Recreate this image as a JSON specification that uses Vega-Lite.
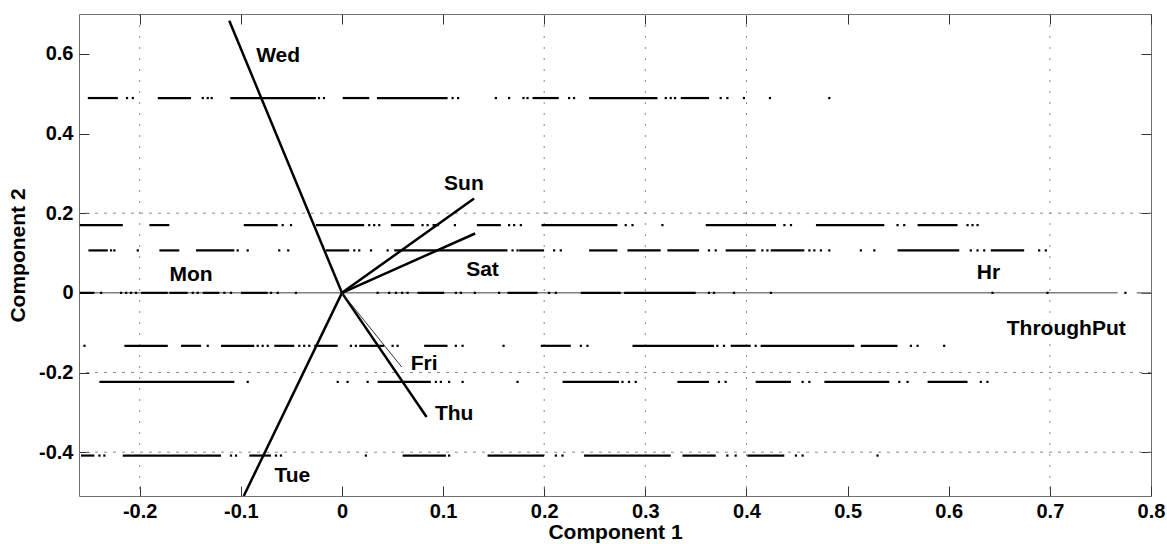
{
  "$schema": "https://vega.github.io/schema/vega-lite/v6.json",
  "width": 1072,
  "height": 482,
  "autosize": {"type": "none"},
  "padding": {"left": 79, "top": 14, "right": 16, "bottom": 48},
  "background": "white",
  "config": {
    "view": {"stroke": "#707070", "strokeWidth": 1},
    "axis": {
      "domain": false,
      "grid": false,
      "ticks": true,
      "tickColor": "#333333",
      "tickSize": -10,
      "labelFont": "Liberation Sans",
      "labelFontWeight": "bold",
      "labelFontSize": 20,
      "labelColor": "#000000",
      "titleFont": "Liberation Sans",
      "titleFontWeight": "bold",
      "titleFontSize": 21,
      "titleColor": "#000000",
      "labelFlush": false,
      "labelOverlap": false
    }
  },
  "datasets": {
    "segs": [
      {"y": 0.489, "a": -0.2513, "b": -0.2216}, {"y": 0.489, "a": -0.1821, "b": -0.1492}, {"y": 0.489, "a": -0.1104, "b": -0.0257}, {"y": 0.489, "a": 0.0007, "b": 0.027}, {"y": 0.489, "a": 0.0346, "b": 0.1045}, {"y": 0.489, "a": 0.1884, "b": 0.2144}, {"y": 0.489, "a": 0.2444, "b": 0.312}, {"y": 0.489, "a": 0.335, "b": 0.363},
      {"y": 0.17, "a": -0.2592, "b": -0.2167}, {"y": 0.17, "a": -0.1904, "b": -0.1707}, {"y": 0.17, "a": -0.0971, "b": -0.0635}, {"y": 0.17, "a": -0.0257, "b": 0.022}, {"y": 0.17, "a": 0.0484, "b": 0.0714}, {"y": 0.17, "a": 0.0896, "b": 0.0961}, {"y": 0.17, "a": 0.1334, "b": 0.1571}, {"y": 0.17, "a": 0.1973, "b": 0.2724}, {"y": 0.17, "a": 0.3597, "b": 0.4292}, {"y": 0.17, "a": 0.4687, "b": 0.5363}, {"y": 0.17, "a": 0.5692, "b": 0.6087},
      {"y": 0.1065, "a": -0.2507, "b": -0.2315}, {"y": 0.1065, "a": -0.1805, "b": -0.1608}, {"y": 0.1065, "a": -0.1443, "b": -0.1064}, {"y": 0.1065, "a": -0.0158, "b": 0.0072}, {"y": 0.1065, "a": 0.0517, "b": 0.1637}, {"y": 0.1065, "a": 0.1752, "b": 0.1999}, {"y": 0.1065, "a": 0.2444, "b": 0.2724}, {"y": 0.1065, "a": 0.2823, "b": 0.3152}, {"y": 0.1065, "a": 0.3218, "b": 0.3531}, {"y": 0.1065, "a": 0.3794, "b": 0.4091}, {"y": 0.1065, "a": 0.4239, "b": 0.4572}, {"y": 0.1065, "a": 0.5494, "b": 0.6104}, {"y": 0.1065, "a": 0.6416, "b": 0.6746},
      {"y": 0, "a": -0.2592, "b": -0.2448}, {"y": 0, "a": -0.1986, "b": -0.1722}, {"y": 0, "a": -0.1706, "b": -0.1525}, {"y": 0, "a": -0.1376, "b": -0.1212}, {"y": 0, "a": -0.0998, "b": -0.0734}, {"y": 0, "a": 0.0748, "b": 0.1011}, {"y": 0, "a": 0.1637, "b": 0.1934}, {"y": 0, "a": 0.2362, "b": 0.2757}, {"y": 0, "a": 0.279, "b": 0.3498},
      {"y": -0.133, "a": -0.2151, "b": -0.1722}, {"y": -0.133, "a": -0.1591, "b": -0.1393}, {"y": -0.133, "a": -0.1196, "b": -0.0867}, {"y": -0.133, "a": -0.0669, "b": -0.0471}, {"y": -0.133, "a": -0.0274, "b": -0.0042}, {"y": -0.133, "a": 0.0171, "b": 0.0418}, {"y": -0.133, "a": 0.0813, "b": 0.1044}, {"y": -0.133, "a": 0.1966, "b": 0.2263}, {"y": -0.133, "a": 0.2873, "b": 0.3679}, {"y": -0.133, "a": 0.3844, "b": 0.4042}, {"y": -0.133, "a": 0.414, "b": 0.5066}, {"y": -0.133, "a": 0.5131, "b": 0.5494},
      {"y": -0.2236, "a": -0.2398, "b": -0.1064}, {"y": -0.2236, "a": 0.0353, "b": 0.0879}, {"y": -0.2236, "a": 0.2181, "b": 0.274}, {"y": -0.2236, "a": 0.3317, "b": 0.3629}, {"y": -0.2236, "a": 0.4091, "b": 0.444}, {"y": -0.2236, "a": 0.477, "b": 0.5412}, {"y": -0.2236, "a": 0.5791, "b": 0.6186},
      {"y": -0.4085, "a": -0.258, "b": -0.2448}, {"y": -0.4085, "a": -0.2167, "b": -0.1196}, {"y": -0.4085, "a": -0.0916, "b": -0.0702}, {"y": -0.4085, "a": 0.06, "b": 0.1028}, {"y": -0.4085, "a": 0.144, "b": 0.1999}, {"y": -0.4085, "a": 0.2394, "b": 0.3251}, {"y": -0.4085, "a": 0.3367, "b": 0.3696}, {"y": -0.4085, "a": 0.4009, "b": 0.4374}
    ],
    "dots": [
      {"y": 0.489, "x": -0.2125}, {"y": 0.489, "x": -0.2068}, {"y": 0.489, "x": -0.1376}, {"y": 0.489, "x": -0.1327}, {"y": 0.489, "x": -0.1288}, {"y": 0.489, "x": -0.0227}, {"y": 0.489, "x": -0.0178}, {"y": 0.489, "x": 0.1094}, {"y": 0.489, "x": 0.1149}, {"y": 0.489, "x": 0.1522}, {"y": 0.489, "x": 0.1653}, {"y": 0.489, "x": 0.1795}, {"y": 0.489, "x": 0.1835}, {"y": 0.489, "x": 0.2246}, {"y": 0.489, "x": 0.2295}, {"y": 0.489, "x": 0.3202}, {"y": 0.489, "x": 0.3251}, {"y": 0.489, "x": 0.3294}, {"y": 0.489, "x": 0.3745}, {"y": 0.489, "x": 0.3811}, {"y": 0.489, "x": 0.3975}, {"y": 0.489, "x": 0.4232}, {"y": 0.489, "x": 0.4819},
      {"y": 0.17, "x": -0.0586}, {"y": 0.17, "x": -0.0504}, {"y": 0.17, "x": 0.027}, {"y": 0.17, "x": 0.0319}, {"y": 0.17, "x": 0.0369}, {"y": 0.17, "x": 0.0797}, {"y": 0.17, "x": 0.0847}, {"y": 0.17, "x": 0.1117}, {"y": 0.17, "x": 0.1653}, {"y": 0.17, "x": 0.1703}, {"y": 0.17, "x": 0.1769}, {"y": 0.17, "x": 0.2806}, {"y": 0.17, "x": 0.2873}, {"y": 0.17, "x": 0.3169}, {"y": 0.17, "x": 0.4375}, {"y": 0.17, "x": 0.444}, {"y": 0.17, "x": 0.5494}, {"y": 0.17, "x": 0.556}, {"y": 0.17, "x": 0.6186}, {"y": 0.17, "x": 0.6235}, {"y": 0.17, "x": 0.6285},
      {"y": 0.1065, "x": -0.2283}, {"y": 0.1065, "x": -0.225}, {"y": 0.1065, "x": -0.2019}, {"y": 0.1065, "x": -0.1031}, {"y": 0.1065, "x": -0.0932}, {"y": 0.1065, "x": -0.062}, {"y": 0.1065, "x": -0.0531}, {"y": 0.1065, "x": 0.0122}, {"y": 0.1065, "x": 0.0171}, {"y": 0.1065, "x": 0.0287}, {"y": 0.1065, "x": 0.0452}, {"y": 0.1065, "x": 0.1687}, {"y": 0.1065, "x": 0.1736}, {"y": 0.1065, "x": 0.2098}, {"y": 0.1065, "x": 0.2164}, {"y": 0.1065, "x": 0.3629}, {"y": 0.1065, "x": 0.3696}, {"y": 0.1065, "x": 0.4157}, {"y": 0.1065, "x": 0.4207}, {"y": 0.1065, "x": 0.4622}, {"y": 0.1065, "x": 0.4671}, {"y": 0.1065, "x": 0.4736}, {"y": 0.1065, "x": 0.4819}, {"y": 0.1065, "x": 0.5131}, {"y": 0.1065, "x": 0.5264}, {"y": 0.1065, "x": 0.6218}, {"y": 0.1065, "x": 0.6285}, {"y": 0.1065, "x": 0.6351}, {"y": 0.1065, "x": 0.6894}, {"y": 0.1065, "x": 0.696},
      {"y": 0, "x": -0.2381}, {"y": 0, "x": -0.2184}, {"y": 0, "x": -0.2134}, {"y": 0, "x": -0.2085}, {"y": 0, "x": -0.2036}, {"y": 0, "x": -0.1475}, {"y": 0, "x": -0.1426}, {"y": 0, "x": -0.1163}, {"y": 0, "x": -0.1097}, {"y": 0, "x": -0.0702}, {"y": 0, "x": -0.0635}, {"y": 0, "x": -0.0455}, {"y": 0, "x": 0.0353}, {"y": 0, "x": 0.0467}, {"y": 0, "x": 0.0534}, {"y": 0, "x": 0.0595}, {"y": 0, "x": 0.0649}, {"y": 0, "x": 0.1126}, {"y": 0, "x": 0.1176}, {"y": 0, "x": 0.1314}, {"y": 0, "x": 0.1554}, {"y": 0, "x": 0.2048}, {"y": 0, "x": 0.2115}, {"y": 0, "x": 0.3629}, {"y": 0, "x": 0.3679}, {"y": 0, "x": 0.3877}, {"y": 0, "x": 0.4242}, {"y": 0, "x": 0.6433}, {"y": 0, "x": 0.6976}, {"y": 0, "x": 0.7747},
      {"y": -0.133, "x": -0.2546}, {"y": -0.133, "x": -0.1327}, {"y": -0.133, "x": -0.0833}, {"y": -0.133, "x": -0.0784}, {"y": -0.133, "x": -0.0734}, {"y": -0.133, "x": -0.0422}, {"y": -0.133, "x": -0.0373}, {"y": -0.133, "x": -0.0323}, {"y": -0.133, "x": 0.0089}, {"y": -0.133, "x": 0.0138}, {"y": -0.133, "x": 0.0501}, {"y": -0.133, "x": 0.055}, {"y": -0.133, "x": 0.1126}, {"y": -0.133, "x": 0.1193}, {"y": -0.133, "x": 0.1598}, {"y": -0.133, "x": 0.2362}, {"y": -0.133, "x": 0.2428}, {"y": -0.133, "x": 0.3712}, {"y": -0.133, "x": 0.3778}, {"y": -0.133, "x": 0.4091}, {"y": -0.133, "x": 0.5626}, {"y": -0.133, "x": 0.5692}, {"y": -0.133, "x": 0.5955},
      {"y": -0.2236, "x": -0.0932}, {"y": -0.2236, "x": -0.0042}, {"y": -0.2236, "x": 0.0056}, {"y": -0.2236, "x": 0.0254}, {"y": -0.2236, "x": 0.0929}, {"y": -0.2236, "x": 0.0978}, {"y": -0.2236, "x": 0.106}, {"y": -0.2236, "x": 0.1193}, {"y": -0.2236, "x": 0.1736}, {"y": -0.2236, "x": 0.2774}, {"y": -0.2236, "x": 0.2839}, {"y": -0.2236, "x": 0.2905}, {"y": -0.2236, "x": 0.3728}, {"y": -0.2236, "x": 0.3794}, {"y": -0.2236, "x": 0.4555}, {"y": -0.2236, "x": 0.4622}, {"y": -0.2236, "x": 0.5511}, {"y": -0.2236, "x": 0.5593}, {"y": -0.2236, "x": 0.6317}, {"y": -0.2236, "x": 0.6383},
      {"y": -0.4085, "x": -0.2398}, {"y": -0.4085, "x": -0.2349}, {"y": -0.4085, "x": -0.1097}, {"y": -0.4085, "x": -0.1047}, {"y": -0.4085, "x": -0.0652}, {"y": -0.4085, "x": -0.0603}, {"y": -0.4085, "x": 0.0237}, {"y": -0.4085, "x": 0.106}, {"y": -0.4085, "x": 0.2115}, {"y": -0.4085, "x": 0.2181}, {"y": -0.4085, "x": 0.3811}, {"y": -0.4085, "x": 0.3893}, {"y": -0.4085, "x": 0.4489}, {"y": -0.4085, "x": 0.4555}, {"y": -0.4085, "x": 0.5296}
    ],
    "refline": [
      {"y": 0, "a": -0.26, "b": 0.767},
      {"y": 0, "a": 0.786, "b": 0.8}
    ],
    "gridx": [{"x": -0.2}, {"x": 0.2}, {"x": 0.3}, {"x": 0.4}, {"x": 0.7}],
    "gridy": [{"y": 0.2}, {"y": -0.2}, {"y": -0.4}],
    "vectors": [
      {"name": "Wed", "ox": 0, "oy": 0, "x": -0.1114, "y": 0.683},
      {"name": "Tue", "ox": 0, "oy": 0, "x": -0.0971, "y": -0.51},
      {"name": "Sun", "ox": 0, "oy": 0, "x": 0.1307, "y": 0.237},
      {"name": "Sat", "ox": 0, "oy": 0, "x": 0.1317, "y": 0.149},
      {"name": "Thu", "ox": 0, "oy": 0, "x": 0.0837, "y": -0.3116},
      {"name": "Fri", "ox": 0, "oy": 0, "x": 0.059, "y": -0.186}
    ],
    "labels": [
      {"label": "Wed", "x": -0.0631, "y": 0.579},
      {"label": "Sun", "x": 0.1206, "y": 0.258},
      {"label": "Sat", "x": 0.139, "y": 0.042},
      {"label": "Mon", "x": -0.1492, "y": 0.029},
      {"label": "Fri", "x": 0.0813, "y": -0.1942},
      {"label": "Thu", "x": 0.111, "y": -0.318},
      {"label": "Tue", "x": -0.0491, "y": -0.4749},
      {"label": "Hr", "x": 0.6393, "y": 0.0337},
      {"label": "ThroughPut", "x": 0.7162, "y": -0.1063}
    ]
  },
  "resolve": {"axis": {"x": "independent", "y": "independent"}},
  "layer": [
    {
      "data": {"name": "gridx"},
      "mark": {"type": "rule", "color": "#8a8a8a", "strokeWidth": 1, "strokeDash": [2, 9]},
      "encoding": {
        "x": {"field": "x", "type": "quantitative", "scale": {"domain": [-0.26, 0.8], "nice": false, "zero": false}, "axis": null}
      }
    },
    {
      "data": {"name": "gridy"},
      "mark": {"type": "rule", "color": "#8a8a8a", "strokeWidth": 1, "strokeDash": [3, 6]},
      "encoding": {
        "y": {"field": "y", "type": "quantitative", "scale": {"domain": [-0.51, 0.7], "nice": false, "zero": false}, "axis": null}
      }
    },
    {
      "data": {"name": "refline"},
      "mark": {"type": "rule", "color": "#808080", "strokeWidth": 1.5},
      "encoding": {
        "x": {"field": "a", "type": "quantitative", "scale": {"domain": [-0.26, 0.8], "nice": false, "zero": false},
          "axis": {"orient": "top", "values": [-0.2, -0.1, 0, 0.1, 0.2, 0.3, 0.4, 0.5, 0.6, 0.7, 0.8], "labels": false, "title": null}},
        "x2": {"field": "b"},
        "y": {"field": "y", "type": "quantitative", "scale": {"domain": [-0.51, 0.7], "nice": false, "zero": false},
          "axis": {"orient": "right", "values": [-0.4, -0.2, 0, 0.2, 0.4, 0.6], "labels": false, "title": null}}
      }
    },
    {
      "data": {"name": "segs"},
      "mark": {"type": "rule", "color": "#000000", "strokeWidth": 2.2},
      "encoding": {
        "x": {"field": "a", "type": "quantitative", "scale": {"domain": [-0.26, 0.8], "nice": false, "zero": false}, "axis": null},
        "x2": {"field": "b"},
        "y": {"field": "y", "type": "quantitative", "scale": {"domain": [-0.51, 0.7], "nice": false, "zero": false}, "axis": null}
      }
    },
    {
      "data": {"name": "dots"},
      "mark": {"type": "square", "color": "#000000", "size": 5, "opacity": 1},
      "encoding": {
        "x": {"field": "x", "type": "quantitative", "scale": {"domain": [-0.26, 0.8], "nice": false, "zero": false},
          "axis": {"orient": "bottom", "values": [-0.2, -0.1, 0, 0.1, 0.2, 0.3, 0.4, 0.5, 0.6, 0.7, 0.8], "labelExpr": "'' + datum.value", "labelPadding": 15, "title": "Component 1", "titlePadding": 0}},
        "y": {"field": "y", "type": "quantitative", "scale": {"domain": [-0.51, 0.7], "nice": false, "zero": false},
          "axis": {"orient": "left", "values": [-0.4, -0.2, 0, 0.2, 0.4, 0.6], "labelExpr": "'' + datum.value", "labelPadding": 16, "title": "Component 2", "titlePadding": 10}}
      }
    },
    {
      "data": {"name": "vectors"},
      "transform": [{"filter": "datum.name != 'Fri'"}],
      "mark": {"type": "rule", "color": "#000000", "strokeWidth": 2.5, "clip": true},
      "encoding": {
        "x": {"field": "ox", "type": "quantitative", "scale": {"domain": [-0.26, 0.8], "nice": false, "zero": false}, "axis": null},
        "y": {"field": "oy", "type": "quantitative", "scale": {"domain": [-0.51, 0.7], "nice": false, "zero": false}, "axis": null},
        "x2": {"field": "x"},
        "y2": {"field": "y"}
      }
    },
    {
      "data": {"name": "vectors"},
      "transform": [{"filter": "datum.name == 'Fri'"}],
      "mark": {"type": "rule", "color": "#303030", "strokeWidth": 1},
      "encoding": {
        "x": {"field": "ox", "type": "quantitative", "scale": {"domain": [-0.26, 0.8], "nice": false, "zero": false}, "axis": null},
        "y": {"field": "oy", "type": "quantitative", "scale": {"domain": [-0.51, 0.7], "nice": false, "zero": false}, "axis": null},
        "x2": {"field": "x"},
        "y2": {"field": "y"}
      }
    },
    {
      "data": {"name": "labels"},
      "mark": {"type": "text", "font": "Liberation Sans", "fontWeight": "bold", "fontSize": 21, "align": "center", "baseline": "alphabetic", "color": "#000000"},
      "encoding": {
        "x": {"field": "x", "type": "quantitative", "scale": {"domain": [-0.26, 0.8], "nice": false, "zero": false}, "axis": null},
        "y": {"field": "y", "type": "quantitative", "scale": {"domain": [-0.51, 0.7], "nice": false, "zero": false}, "axis": null},
        "text": {"field": "label", "type": "nominal"}
      }
    }
  ]
}
